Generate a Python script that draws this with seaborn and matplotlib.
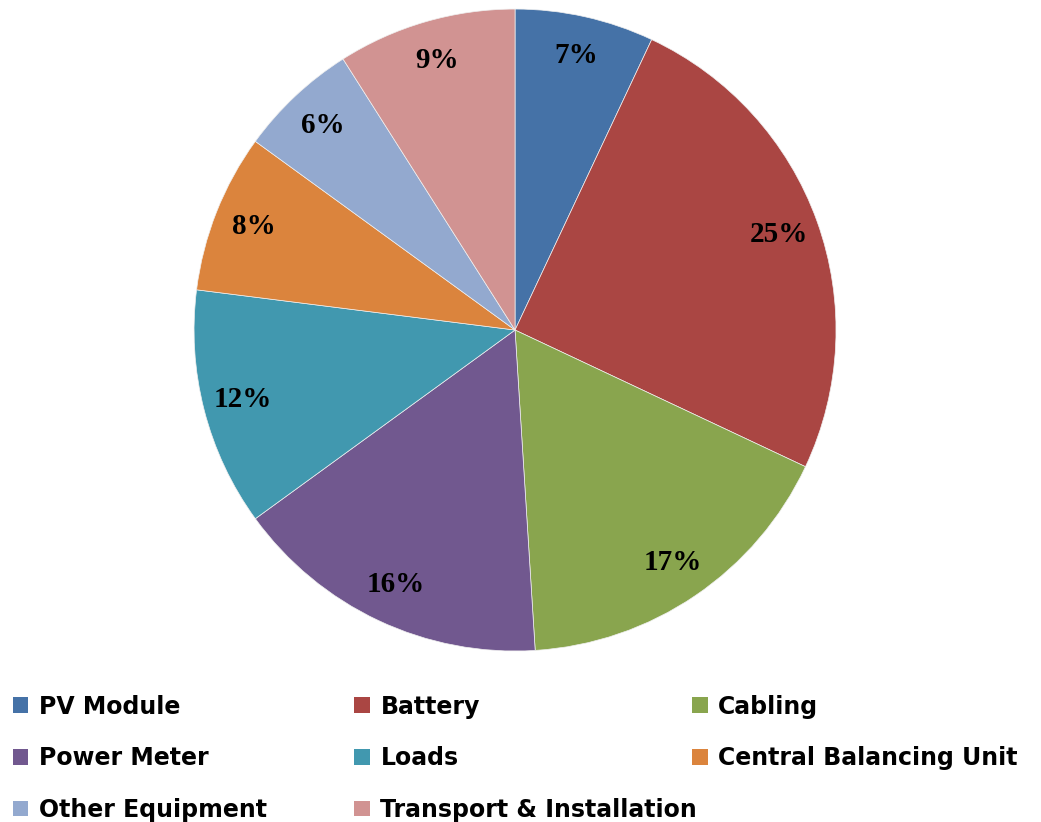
import matplotlib
matplotlib.use("Agg")
import matplotlib.pyplot as plt
import seaborn as sns
from matplotlib.patches import Patch

# cost share of the system components
categories = ["PV Module", "Battery", "Cabling", "Power Meter", "Loads",
              "Central Balancing Unit", "Other Equipment", "Transport & Installation"]
shares = [7, 25, 17, 16, 12, 8, 6, 9]
colors = ["#4572A7", "#AA4643", "#89A54E", "#71588F", "#4198AF",
          "#DB843D", "#93A9CF", "#D19392"]

sns.set_theme(style="white")

fig = plt.figure(figsize=(10.41, 8.22), dpi=100)
ax = fig.add_axes([0.1864, 0.208, 0.6167, 0.781])

wedges, texts, autotexts = ax.pie(
    shares, colors=colors, startangle=90, counterclock=False,
    autopct=lambda p: f"{p:.0f}%", pctdistance=0.875, radius=1.0,
    wedgeprops=dict(edgecolor="#f0f0f0", linewidth=0.5),
    textprops=dict(fontsize=21, fontweight="bold", family="Liberation Serif", color="black"),
)
ax.set_xlim(-1, 1)
ax.set_ylim(-1, 1)
ax.set_aspect("equal")
ax.axis("off")

# legend laid out in three fixed-width columns, row by row
col_x = [0.0125, 0.3405, 0.665]
for c in range(3):
    idx = [i for i in range(c, len(categories), 3)]
    handles = [Patch(facecolor=colors[i], edgecolor="none") for i in idx]
    labels = [categories[i] for i in idx]
    fig.legend(handles, labels, loc="upper left", bbox_to_anchor=(col_x[c], 0.155),
               frameon=False, handlelength=0.65, handleheight=0.65, handletextpad=0.45,
               labelspacing=1.17, borderaxespad=0, borderpad=0, labelcolor="black",
               prop=dict(family="DejaVu Sans", weight="bold", size=17))

fig.savefig("out.png", dpi=100)
